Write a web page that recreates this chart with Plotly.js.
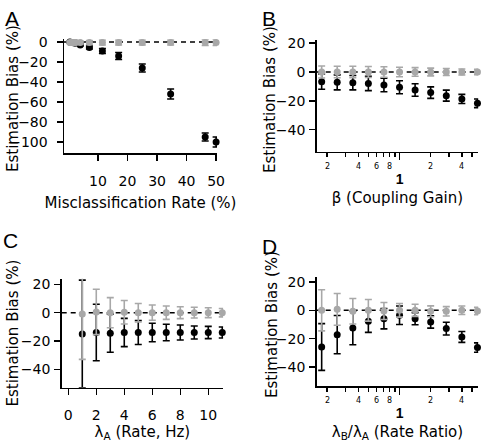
<!DOCTYPE html>
<html>
<head>
<meta charset="utf-8">
<script src="https://cdn.plot.ly/plotly-3.0.1.min.js"></script>
<style>html,body{margin:0;padding:0;background:#fff;}#chart{width:486px;height:444px;}</style>
</head>
<body>
<div id="chart"></div>
<script>
// ---------- Panel A: misclassification rate ----------
const misclassRate = [0.5, 1, 1.5, 2, 2.5, 4, 7.1, 11.5, 17, 25, 34.6, 46.3, 50];
const biasA_black = [0, -0.5, -0.5, -1, -1, -3, -5.5, -9, -14, -26, -52, -95, -100];
const errA_black  = [0.5, 0.5, 0.5, 0.8, 0.8, 1, 1.5, 2.5, 3.5, 4, 5, 4, 5];
const biasA_gray  = [-0.5, -0.5, -0.5, -0.5, -0.5, -0.5, -0.5, -0.5, -0.5, -0.5, -0.5, -0.5, -0.5];
const errA_gray   = [1, 1, 1, 1, 1, 1.5, 2, 2.5, 2.5, 2.5, 2.5, 3, 3];
const ticksA_x = [10, 20, 30, 40, 50];
const ticksA_y = [0, -20, -40, -60, -80, -100];

// ---------- Panel B: coupling gain ----------
const couplingGain = [0.177, 0.25, 0.354, 0.5, 0.707, 1, 1.414, 2, 2.83, 4, 5.66];
const biasB_black = [-6.7, -7.2, -7.4, -7.9, -9, -10.6, -12.5, -14.3, -16.4, -18.7, -21.7];
const errB_black  = [5.3, 5.2, 5, 5, 4.7, 4.5, 4.3, 4, 3.8, 3.2, 3];
const biasB_gray  = [0, 0, 0, 0, 0, 0, 0, 0, 0, 0, 0];
const errB_gray   = [4.2, 4, 4, 3.8, 3.6, 3.3, 3, 2.7, 2.4, 2.1, 1.8];

// ---------- Panel C: rate ----------
const rateA = [1, 2, 3, 4, 5, 6, 7, 8, 9, 10, 11];
const biasC_black = [-15, -14, -14.5, -14, -14, -14, -14, -14, -14, -14, -14];
const errC_black  = [38, 20, 13.5, 10, 8.5, 6.5, 5.8, 5.3, 4.6, 4.3, 3.9];
const biasC_gray  = [-1, 0.5, 0, 0.3, 0, 0, 0, 0, 0, 0, 0];
const errC_gray_plus  = [26, 16, 10.6, 8.3, 6.5, 5.4, 4.7, 4.2, 3.8, 3.5, 3];
const errC_gray_minus = [32, 16, 10.6, 8.3, 6.5, 5.4, 4.7, 4.2, 3.8, 3.5, 3];
const ticksC_x = [0, 2, 4, 6, 8, 10];

// ---------- Panel D: rate ratio ----------
const rateRatio = [0.177, 0.25, 0.354, 0.5, 0.707, 1, 1.414, 2, 2.83, 4, 5.66];
const biasD_black = [-25.9, -17.2, -12.5, -7.8, -5.9, -3.5, -5.9, -8.2, -12.9, -18.8, -26.3];
const errD_black  = [16.5, 13.5, 11.8, 7.8, 7.2, 6.5, 4.3, 4.4, 4.5, 3.8, 3.3];
const biasD_gray  = [0, 0.7, -0.7, 0, -0.5, 0, 0, -0.7, -0.7, 0, -0.5];
const errD_gray   = [14.5, 11.2, 9, 7.6, 6, 4.8, 4.3, 3.8, 3.3, 3, 2.6];

const ticksBD_y = [20, 0, -20, -40];
const logMinorTicks = [0.2, 0.3, 0.4, 0.5, 0.6, 0.7, 0.8, 0.9, 2, 3, 4, 5];
const logSmallLabelVals = [0.2, 0.4, 0.6, 0.8, 2, 4];
const logSmallLabelText = ['2', '4', '6', '8', '2', '4'];
const logMajorTicks = [1];
const logMajorText = ['<b>1</b>'];

const yTitleText = 'Estimation Bias (%)';
const panelLetters = ['A', 'B', 'C', 'D'];

const BLACK = '#000000';
const GRAY = '#a8a8a8';
const FONT = 'DejaVu Sans';

function series(x, y, err, color, xa, ya, errMinus) {
  const e = {type: 'data', array: err, color: color, thickness: 1.6, width: 3.5, visible: true};
  if (errMinus) { e.symmetric = false; e.arrayminus = errMinus; }
  return {
    type: 'scatter', mode: 'markers', x: x, y: y, xaxis: xa, yaxis: ya,
    marker: {color: color, size: 7}, error_y: e, cliponaxis: false, showlegend: false,
    hoverinfo: 'skip'
  };
}

const data = [
  series(misclassRate, biasA_black, errA_black, BLACK, 'x', 'y'),
  series(misclassRate, biasA_gray, errA_gray, GRAY, 'x', 'y'),
  series(couplingGain, biasB_black, errB_black, BLACK, 'x2', 'y2'),
  series(couplingGain, biasB_gray, errB_gray, GRAY, 'x2', 'y2'),
  series(rateA, biasC_black, errC_black, BLACK, 'x3', 'y3'),
  series(rateA, biasC_gray, errC_gray_plus, GRAY, 'x3', 'y3', errC_gray_minus),
  series(rateRatio, biasD_black, errD_black, BLACK, 'x4', 'y4'),
  series(rateRatio, biasD_gray, errD_gray, GRAY, 'x4', 'y4')
];

const W = 486, H = 444;
const dx = (a, b) => [a / W, b / W];
const dy = (top, bottom) => [1 - bottom / H, 1 - top / H];

const axBase = {
  showline: true, linecolor: BLACK, linewidth: 1.5, ticks: 'outside', tickcolor: BLACK,
  tickwidth: 1.5, ticklen: 6, showgrid: false, zeroline: false,
  tickfont: {family: FONT, size: 14, color: BLACK}, tickmode: 'array', fixedrange: true
};
const xTitleFont = {family: FONT, size: 15, color: BLACK};
const yTitleFont = {family: FONT, size: 15, color: BLACK};

function xlog(domain, anchor, title) {
  return Object.assign({}, axBase, {
    type: 'log', domain: domain, anchor: anchor, range: [-0.8, 0.76],
    tickvals: logMajorTicks, ticktext: logMajorText, ticklen: 7,
    tickfont: {family: 'Liberation Sans', size: 14, color: BLACK}, ticklabelstandoff: 7,
    minor: {tickmode: 'array', tickvals: logMinorTicks, ticks: 'outside', ticklen: 4, tickwidth: 1.5, tickcolor: BLACK, showgrid: false},
    title: {text: title, font: xTitleFont, standoff: 6}
  });
}

function smallLabels(xa, yPx) {
  return logSmallLabelVals.map((v, i) => ({
    text: logSmallLabelText[i], xref: xa, yref: 'paper', x: Math.log10(v), y: 1 - yPx / H,
    showarrow: false, xanchor: 'center', yanchor: 'middle',
    font: {family: FONT, size: 8, color: BLACK}
  }));
}

// y-axis titles (placed beside each panel's y axis)
const yTitlePos = [[13, 99], [270, 100], [12.5, 333], [272, 325]];
const yTitles = yTitlePos.map(p => ({
  text: yTitleText, xref: 'paper', yref: 'paper', x: p[0] / W, y: 1 - p[1] / H,
  textangle: -90, showarrow: false, xanchor: 'center', yanchor: 'middle', font: yTitleFont
}));

const letterPos = [[3, 5], [260, 5], [1, 227], [260, 233]];
const letters = panelLetters.map((t, i) => ({
  text: t, xref: 'paper', yref: 'paper', x: letterPos[i][0] / W, y: 1 - letterPos[i][1] / H,
  xanchor: 'left', yanchor: 'top', showarrow: false,
  font: {family: 'Liberation Sans', size: 21, color: BLACK}
}));

const layout = {
  width: W, height: H, margin: {l: 0, r: 0, t: 0, b: 0},
  paper_bgcolor: '#fff', plot_bgcolor: 'rgba(0,0,0,0)', showlegend: false,
  font: {family: FONT, color: BLACK},
  xaxis: Object.assign({}, axBase, {
    domain: dx(64, 217), anchor: 'y', range: [-1.5, 50.3], tickvals: ticksA_x,
    ticklabelstandoff: 8,
    title: {text: 'Misclassification Rate (%)', font: xTitleFont, standoff: 10}
  }),
  yaxis: Object.assign({}, axBase, {
    domain: dy(39.3, 153.3), anchor: 'x', range: [-111.3, 2.7], tickvals: ticksA_y,
    ticklabelstandoff: 6
  }),
  xaxis2: xlog(dx(316.7, 478.2), 'y2', 'β (Coupling Gain)'),
  yaxis2: Object.assign({}, axBase, {
    domain: dy(40, 151.7), anchor: 'x2', range: [-55.3, 22.2], tickvals: ticksBD_y,
    ticklabelstandoff: 1
  }),
  xaxis3: Object.assign({}, axBase, {
    domain: dx(61.7, 223.1), anchor: 'y3', range: [-0.47, 11.06], tickvals: ticksC_x,
    ticklabelstandoff: 8,
    title: {text: 'λ<sub>A</sub> (Rate, Hz)', font: xTitleFont, standoff: 4}
  }),
  yaxis3: Object.assign({}, axBase, {
    domain: dy(278.7, 387.7), anchor: 'x3', range: [-53, 24], tickvals: ticksBD_y,
    ticklabelstandoff: 1
  }),
  xaxis4: xlog(dx(316.7, 478.2), 'y4', 'λ<sub>B</sub>/λ<sub>A</sub> (Rate Ratio)'),
  yaxis4: Object.assign({}, axBase, {
    domain: dy(277, 386), anchor: 'x4', range: [-53.4, 23.5], tickvals: ticksBD_y,
    ticklabelstandoff: 1
  }),
  shapes: ['', '2', '3', '4'].map(s => ({
    type: 'line', xref: 'x' + s + ' domain', yref: 'y' + s, x0: 0, x1: 1, y0: 0, y1: 0,
    layer: 'below', line: {color: BLACK, width: 1.5, dash: '5px,4px'}
  })),
  annotations: letters.concat(yTitles)
    .concat(smallLabels('x2', 166.7))
    .concat(smallLabels('x4', 400.3))
};

Plotly.newPlot('chart', data, layout, {staticPlot: true, displayModeBar: false});
</script>
</body>
</html>
